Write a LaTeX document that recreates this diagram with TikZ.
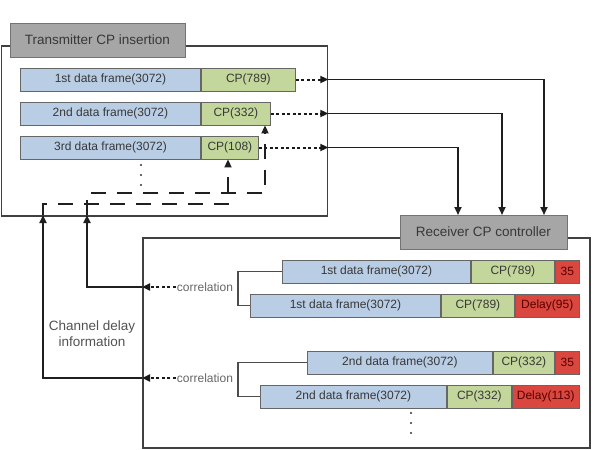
\documentclass[tikz,border=0pt]{standalone}
\usepackage{fontspec}
\setmainfont{Liberation Sans}
\usetikzlibrary{arrows.meta}
\definecolor{fblue}{HTML}{B9CDE5}
\definecolor{fgreen}{HTML}{C3D69B}
\definecolor{fred}{HTML}{D9473F}
\definecolor{tabgray}{HTML}{A6A6A6}
\tikzset{
  seg/.style={draw=black!60, line width=0.9pt, inner sep=0pt, minimum height=23pt, anchor=west,
    font=\fontsize{12}{13}\selectfont, text=black!78},
  bluebox/.style={seg, fill=fblue},
  greenbox/.style={seg, fill=fgreen},
  redbox/.style={seg, fill=fred, text=red!35!black},
  tabbox/.style={draw=black!55, fill=tabgray, line width=1pt, inner sep=0pt,
    font=\fontsize{13.5}{14}\selectfont, text=black!78},
  outerbox/.style={draw=black!75, line width=1.5pt, inner sep=0pt, anchor=north west},
  tip/.style={-{Triangle[length=8pt,width=7pt]}},
  conn/.style={draw=black!88, line width=1.9pt, tip},
  dotconn/.style={draw=black!90, line width=2pt, dash pattern=on 3pt off 2.5pt, tip},
  longdash/.style={draw=black!88, line width=2.2pt, dash pattern=on 15pt off 11pt, tip},
  brk/.style={draw=black!70, line width=1.3pt},
  corr/.style={font=\fontsize{12}{13}\selectfont, text=black!60, inner sep=1pt},
  dotmark/.style={fill=black!80},
}
\begin{document}
\begin{tikzpicture}[x=1pt,y=-1pt]
\useasboundingbox (0,0) rectangle (595,450);
% outer boxes
\node[outerbox, minimum width=326pt, minimum height=170pt] (tx) at (0.8,45) {};
\node[outerbox, minimum width=447pt, minimum height=210pt] (rx) at (142,237) {};
% tabs
\node[tabbox, minimum width=175pt, minimum height=34pt] (tt) at (97.5,40) {Transmitter CP insertion};
\node[tabbox, minimum width=167pt, minimum height=34pt] (rc) at (483.5,232) {Receiver CP controller};
% transmitter frames
\node[bluebox, minimum width=180pt] (t1) at (20,79.5) {1st data frame(3072)};
\node[greenbox, minimum width=94pt] (t1cp) at (t1.east) {CP(789)};
\node[bluebox, minimum width=180pt] (t2) at (20,113.5) {2nd data frame(3072)};
\node[greenbox, minimum width=69pt] (t2cp) at (t2.east) {CP(332)};
\node[bluebox, minimum width=180pt] (t3) at (20,147.5) {3rd data frame(3072)};
\node[greenbox, minimum width=57pt] (t3cp) at (t3.east) {CP(108)};
\foreach \yy in {165,175,185} \fill[dotmark] (141,\yy) circle (1.2pt);
% receiver frames
\node[bluebox, minimum width=188pt] (r1a) at (282,271.5) {1st data frame(3072)};
\node[greenbox, minimum width=83pt] (r1acp) at (r1a.east) {CP(789)};
\node[redbox, minimum width=24pt] (r1ad) at (r1acp.east) {35};
\node[bluebox, minimum width=190pt] (r1b) at (250,305.5) {1st data frame(3072)};
\node[greenbox, minimum width=73pt] (r1bcp) at (r1b.east) {CP(789)};
\node[redbox, minimum width=64pt] (r1bd) at (r1bcp.east) {Delay(95)};
\node[bluebox, minimum width=185pt] (r2a) at (307,362.5) {2nd data frame(3072)};
\node[greenbox, minimum width=61pt] (r2acp) at (r2a.east) {CP(332)};
\node[redbox, minimum width=24pt] (r2ad) at (r2acp.east) {35};
\node[bluebox, minimum width=186pt] (r2b) at (260,396.5) {2nd data frame(3072)};
\node[greenbox, minimum width=64pt] (r2bcp) at (r2b.east) {CP(332)};
\node[redbox, minimum width=67pt] (r2bd) at (r2bcp.east) {Delay(113)};
\foreach \yy in {413,423,433} \fill[dotmark] (411,\yy) circle (1.2pt);
% brackets
\coordinate (bx) at (238,0);
\draw[brk] (r1a.west) -- (r1a.west -| bx) |- (r1b.west);
\draw[brk] (r2a.west) -- (r2a.west -| bx) |- (r2b.west);
% transmitter -> receiver
\coordinate (a1) at (tx.east |- t1cp.east);
\coordinate (a2) at (tx.east |- t2cp.east);
\coordinate (a3) at (tx.east |- t3cp.east);
\coordinate (in1) at (544,215);
\coordinate (in2) at (502,215);
\coordinate (in3) at (458,215);
\draw[dotconn] (t1cp.east) -- (a1);
\draw[dotconn] (t2cp.east) -- (a2);
\draw[dotconn] (t3cp.east) -- (a3);
\draw[conn] (a1) -| (in1);
\draw[conn] (a2) -| (in2);
\draw[conn] (a3) -| (in3);
% correlation feedback
\node[corr] (c1) at (205,287) {correlation};
\node[corr] (c2) at (205,378) {correlation};
\coordinate (e1) at (rx.west |- c1);
\coordinate (e2) at (rx.west |- c2);
\coordinate (u1) at (87,215);
\coordinate (u2) at (43,215);
\draw[dotconn] (c1.west) -- (e1);
\draw[dotconn] (c2.west) -- (e2);
\draw[conn] (e1) -| (u1);
\draw[conn] (e2) -| (u2);
\node[font=\fontsize{13.5}{16}\selectfont, align=center, text=black!68] (cdi) at (92,334) {Channel delay\\information};
% dashed delay paths
\coordinate (k2) at (265,193);
\coordinate (k1) at (228,204);
\draw[longdash] (u2) |- (k1) -- (k1 |- t3cp.south);
\draw[longdash] (u1) |- (k2) -- (k2 |- t2cp.south);
\end{tikzpicture}
\end{document}
